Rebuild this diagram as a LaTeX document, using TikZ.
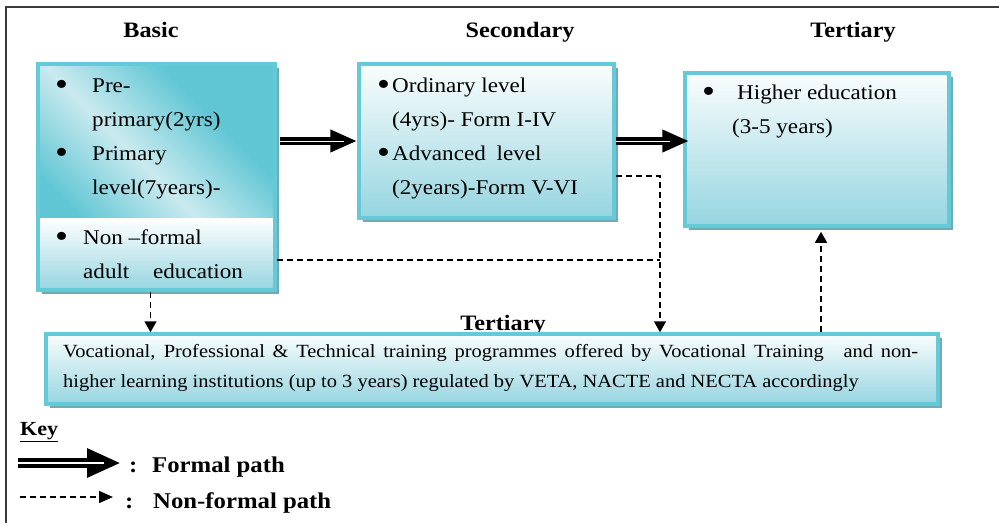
\documentclass[tikz,border=0pt]{standalone}
\usepackage{fontspec}
\setmainfont[FakeStretch=1.1]{Liberation Serif}
\usetikzlibrary{arrows.meta,shadows}
\definecolor{cEdge} {RGB}{100,202,215}
\definecolor{cDeep} {RGB}{96,198,212}
\definecolor{cPale} {RGB}{202,234,239}
\definecolor{cTop}  {RGB}{250,253,253}
\definecolor{cBot}  {RGB}{150,213,224}
\definecolor{cShade}{RGB}{112,170,180}
\definecolor{cFrame}{RGB}{60,60,60}
\pgfdeclarehorizontalshading{diagteal}{100bp}{color(0bp)=(cDeep); color(32bp)=(cDeep);
  color(50bp)=(cPale); color(68bp)=(cDeep); color(100bp)=(cDeep)}
% larger list bullet, sitting at mid x-height
\newcommand\dotmark{\raisebox{-3.5pt}{\scalebox{1.6}{\textbullet}}}

\begin{document}
\begin{tikzpicture}[x=1pt,y=-1pt,
  >={Triangle[length=11pt,width=12pt]},
  % all boxes: teal edge, white-to-teal fill, solid offset shadow
  box/.style={draw=cEdge,line width=3.5pt,inner sep=0pt,
              top color=cTop,bottom color=cBot,
              drop shadow={shadow xshift=3.5pt,shadow yshift=-3.5pt,fill=cShade,opacity=1}},
  head/.style={font=\fontsize{22}{26}\selectfont\bfseries,anchor=base,inner sep=0pt},
  txt/.style={font=\fontsize{21}{25}\selectfont,anchor=base west,inner sep=0pt},
  vtxt/.style={font=\fontsize{18.6}{22}\selectfont,anchor=base west,inner sep=0pt},
  keytxt/.style={font=\fontsize{22.5}{26}\selectfont\bfseries,anchor=base west,inner sep=0pt},
  % black bar with a thin white core running into the head
  formal/.style={line width=8pt,-{Triangle[length=27pt,width=21pt]},
                 postaction={draw=white,line width=0.9pt,-,shorten >=13pt}},
  formalkey/.style={line width=10pt,-{Triangle[length=34pt,width=27pt]},
                    postaction={draw=white,line width=1.1pt,-,shorten >=17pt}},
  informal/.style={->,line width=1.5pt,dash pattern=on 6pt off 4pt},
]
\useasboundingbox (0,0) rectangle (999,523);

% ------------------------------------------------------------------ frame
\draw[cFrame,line width=1.5pt] (6,523) -- (6,7) -- (999,7);

% ------------------------------------------------------------------ headings
\node[head] (hBasic) at (151,37)  {Basic};
\node[head] (hSec)   at (520,37)  {Secondary};
\node[head] (hTer)   at (853,37)  {Tertiary};
\node[head] (hVoc)   at (503,330) {Tertiary};

% ------------------------------------------------------------------ boxes
\node[box,minimum width=237,minimum height=226,
      path picture={
        \shade[shading=diagteal,shading angle=45]
          (path picture bounding box.north west)
          rectangle ([yshift=72pt]path picture bounding box.south east);
        \shade[top color=white,bottom color=cBot]
          ([yshift=72pt]path picture bounding box.south west)
          rectangle (path picture bounding box.south east);}]
      (basic) at (156.5,177) {};
\node[box,minimum width=255,minimum height=154] (secondary)  at (486.5,141) {};
\node[box,minimum width=264,minimum height=153] (higher)     at (817,149.5) {};
\node[box,minimum width=892,minimum height=70]  (vocational) at (492,369)   {};

% ------------------------------------------------------------------ box texts
\node[txt] (b1) at (55,92)   {\makebox[37pt][l]{\dotmark}Pre-};
\node[txt] (b2) at (92,126)  {primary(2yrs)};
\node[txt] (b3) at (55,160)  {\makebox[37pt][l]{\dotmark}Primary};
\node[txt] (b4) at (92,194)  {level(7years)-};
\node[txt] (b5) at (55,244)  {\makebox[28pt][l]{\dotmark}Non –formal};
\node[txt] (b6) at (83,278)  {adult\hspace*{18pt} education};

\node[txt] (s1) at (377,92)  {\makebox[15pt][l]{\dotmark}Ordinary level};
\node[txt] (s2) at (392,126) {(4yrs)- Form I-IV};
\node[txt] (s3) at (377,160) {\makebox[15pt][l]{\dotmark}Advanced\hspace*{5pt} level};
\node[txt] (s4) at (392,194) {(2years)-Form V-VI};

\node[txt] (t1) at (702,99)  {\makebox[35pt][l]{\dotmark}Higher education};
\node[txt] (t2) at (732,133) {(3-5 years)};

\node[vtxt] (v1) at (63,357) {\makebox[855pt][s]{Vocational, Professional \& Technical
  training programmes offered by Vocational Training\hspace*{12pt} and non-}};
\node[vtxt] (v2) at (63,387) {higher learning institutions (up to 3 years) regulated by
  VETA, NACTE and NECTA accordingly};

% ------------------------------------------------------------------ formal path
\draw[formal,shorten <=3pt] (basic.east |- secondary.west) -- (secondary.west);
\draw[formal,shorten >=-6pt] (secondary.east) -- (secondary.east -| higher.west);

% ------------------------------------------------------------------ non-formal path
\coordinate (turn) at (660,176);
\coordinate (join) at (660,260);
\draw[informal] (secondary.east |- turn) -- (turn) -- (turn |- vocational.north);
\draw[informal,-] (basic.east |- join) -- (join);
\draw[informal] ([xshift=-6pt]basic.south) -- ([xshift=-6pt]basic.south |- vocational.north);
\draw[informal,shorten >=4pt] ([xshift=4pt]higher.south |- vocational.north)
      -- ([xshift=4pt]higher.south);

% ------------------------------------------------------------------ key
\node[keytxt,font=\fontsize{20}{24}\selectfont\bfseries] (key) at (20,435) {\underline{Key}};
\coordinate (kf1) at (18,463);
\coordinate (kf2) at (121,463);
\draw[formalkey] (kf1) -- (kf2);
\node[keytxt] (kc1) at (129,472) {:};
\node[keytxt] (kfp) at (152,472) {Formal path};
\coordinate (kn1) at (20,497);
\coordinate (kn2) at (113,497);
\draw[informal,-{Triangle[length=14pt,width=12pt]}] (kn1) -- (kn2);
\node[keytxt] (kc2) at (125,508) {:};
\node[keytxt] (knp) at (153,508) {Non-formal path};

\end{tikzpicture}
\end{document}
